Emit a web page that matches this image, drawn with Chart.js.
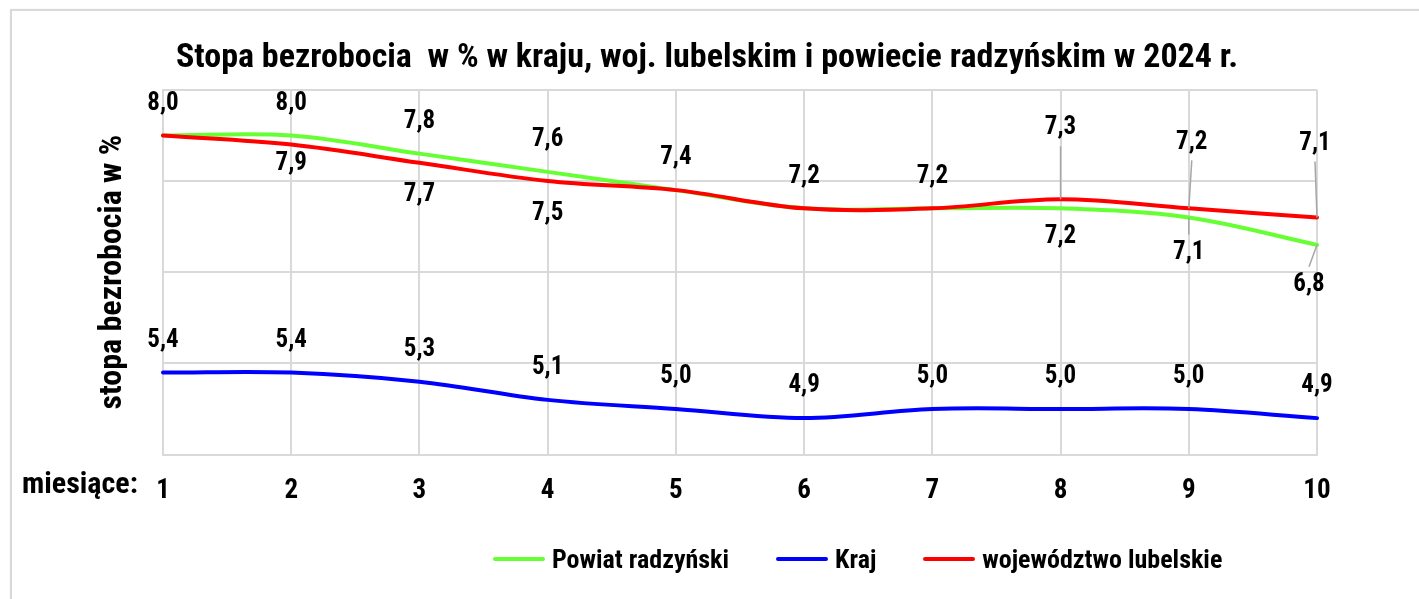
<!DOCTYPE html>
<html>
<head>
<meta charset="utf-8">
<script src="https://cdn.jsdelivr.net/npm/chart.js@4"></script>
<style>
  body { margin: 0; background: #fff; overflow: hidden; }
  .frame {
    position: absolute; left: 10px; top: 9px; width: 1500px; height: 700px;
    border: 2px solid #d9d9d9; box-shadow: 1px 1px 3px rgba(0,0,0,0.12);
  }
  #chart-wrap { position: absolute; left: 0; top: 0; width: 1419px; height: 599px; }
  #unemployment-chart-legend ul {
    position: absolute; left: 493px; top: 542px; margin: 0; padding: 0;
    list-style: none; display: flex; align-items: center;
    font: bold 26px 'Roboto Condensed', sans-serif; color: #000;
  }
  #unemployment-chart-legend li { display: flex; align-items: center; margin-right: 47px; height: 34px; }
  #unemployment-chart-legend span { display: inline-block; width: 52px; height: 4px; margin-right: 7px; border-radius: 2px; }
</style>
</head>
<body>
<div class="frame"></div>
<div id="chart-wrap">
  <canvas id="unemployment-chart" width="1419" height="599"></canvas>
  <div id="unemployment-chart-legend"></div>
</div>
<script>
  const months = ['1', '2', '3', '4', '5', '6', '7', '8', '9', '10'];
  const powiatRadzynski = [8.0, 8.0, 7.8, 7.6, 7.4, 7.2, 7.2, 7.2, 7.1, 6.8];
  const kraj = [5.4, 5.4, 5.3, 5.1, 5.0, 4.9, 5.0, 5.0, 5.0, 4.9];
  const wojLubelskie = [8.0, 7.9, 7.7, 7.5, 7.4, 7.2, 7.2, 7.3, 7.2, 7.1];
  const yGridValues = [4.5, 5.5, 6.5, 7.5, 8.5];

  const FONT = "'Roboto Condensed', sans-serif";
  const gridColor = '#d9d9d9';

  // where each value label sits relative to its point (null = no label)
  const up = { dy: -32 };
  const labelPlacement = [
    [up, up, up, up, up, up, up, { dy: 28 }, { dy: 35, leader: true }, { dx: -8, dy: 40, leader: true }],
    [up, up, up, up, up, up, up, up, up, up],
    [null, { dy: 19 }, { dy: 32 }, { dy: 33 }, null, null, null,
      { dy: -71, leader: true }, { dx: 3, dy: -66, leader: true }, { dx: -2, dy: -74, leader: true }]
  ];

  const ctx = document.getElementById('unemployment-chart');

  new Chart(ctx, {
    type: 'line',
    data: {
      labels: months,
      datasets: [{
        label: 'Powiat radzyński',
        data: powiatRadzynski,
        borderColor: '#66ff33',
        backgroundColor: '#66ff33',
        order: 3
      }, {
        label: 'Kraj',
        data: kraj,
        borderColor: '#0000ff',
        backgroundColor: '#0000ff',
        order: 2
      }, {
        label: 'województwo lubelskie',
        data: wojLubelskie,
        borderColor: '#ff0000',
        backgroundColor: '#ff0000',
        order: 1
      }]
    },
    options: {
      responsive: false,
      animation: false,
      layout: { padding: { left: 97, right: 102, top: 0, bottom: 72 } },
      elements: {
        line: { tension: 0.35, borderWidth: 4, fill: false, borderCapStyle: 'round' },
        point: { radius: 0 }
      },
      scales: {
        x: {
          grid: { color: gridColor, lineWidth: 2, drawTicks: false },
          border: { color: gridColor, width: 2 },
          ticks: { color: '#000', padding: 20, font: { family: FONT, size: 27, weight: 'bold' } }
        },
        y: {
          min: 4.5,
          max: 8.5,
          afterBuildTicks: function (scale) {
            scale.ticks = yGridValues.map(v => ({ value: v }));
          },
          afterFit: function (scale) { scale.width = 66; },
          grid: { color: gridColor, lineWidth: 2, drawTicks: false },
          border: { color: gridColor, width: 2 },
          ticks: { display: false },
          title: {
            display: true,
            text: 'stopa bezrobocia w %',
            color: '#000',
            padding: 0,
            font: { family: FONT, size: 32, weight: 'bold', lineHeight: 1 }
          }
        }
      },
      plugins: {
        legend: { display: false },
        tooltip: { enabled: false },
        title: {
          display: true,
          text: 'Stopa bezrobocia  w % w kraju, woj. lubelskim i powiecie radzyńskim w 2024 r.',
          color: '#000',
          font: { family: FONT, size: 34, weight: 'bold' },
          padding: { top: 38, bottom: 11 }
        }
      }
    },
    plugins: [{
      id: 'valueLabels',
      afterDatasetsDraw: function (chart) {
        const c = chart.ctx;
        c.save();
        c.font = 'bold 25px ' + FONT;
        c.textAlign = 'center';
        c.textBaseline = 'middle';
        chart.data.datasets.forEach(function (ds, i) {
          const meta = chart.getDatasetMeta(i);
          meta.data.forEach(function (pt, j) {
            const pl = labelPlacement[i][j];
            if (!pl) return;
            const lx = pt.x + (pl.dx || 0);
            const ly = pt.y + pl.dy;
            if (pl.leader) {
              c.strokeStyle = '#a6a6a6';
              c.lineWidth = 1.5;
              c.beginPath();
              c.moveTo(pt.x, pt.y);
              c.lineTo(lx, ly - Math.sign(pl.dy) * 18);
              c.stroke();
            }
            c.fillStyle = '#000';
            c.fillText(ds.data[j].toFixed(1).replace('.', ','), lx, ly);
          });
        });
        c.font = 'bold 30px ' + FONT;
        c.textAlign = 'left';
        c.textBaseline = 'alphabetic';
        c.fillText('miesiące:', 22, 493);
        c.restore();
      }
    }, {
      afterUpdate: function (chart) {
        const legendEl = document.getElementById(chart.canvas.id + '-legend');
        if (!legendEl) return;
        const ul = document.createElement('ul');
        chart.data.datasets.forEach(function (ds) {
          ul.innerHTML += `
            <li>
              <span style="background-color: ${ds.borderColor}"></span>
              ${ds.label}
            </li>
          `;
        });
        legendEl.innerHTML = '';
        legendEl.appendChild(ul);
      }
    }]
  });
</script>
</body>
</html>
